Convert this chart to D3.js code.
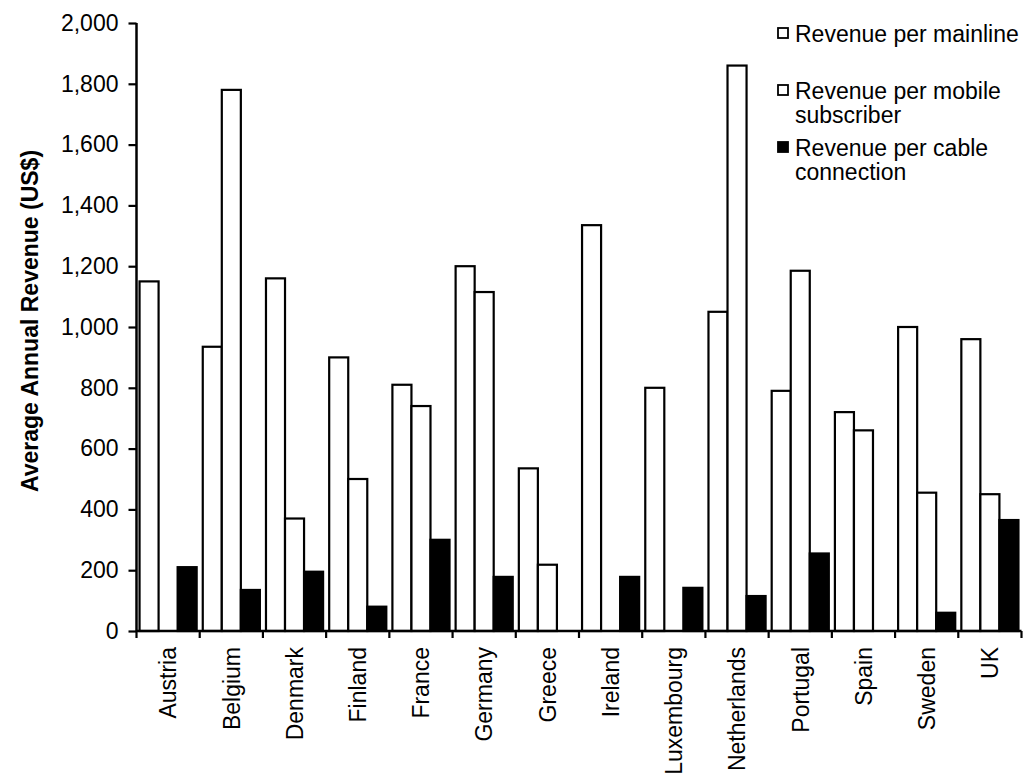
<!DOCTYPE html>
<html>
<head>
<meta charset="utf-8">
<script src="https://cdn.jsdelivr.net/npm/d3@7"></script>
<style>
  html, body { margin: 0; padding: 0; background: #fff; }
  svg { display: block; font-family: "Liberation Sans", Arial, Helvetica, sans-serif; }
</style>
</head>
<body>
<svg id="chart" width="1026" height="776"></svg>
<script>
// Average annual revenue per connection type, by country (US$)
const countries = ["Austria", "Belgium", "Denmark", "Finland", "France", "Germany", "Greece",
  "Ireland", "Luxembourg", "Netherlands", "Portugal", "Spain", "Sweden", "UK"];
const mainline = [1150, 935, 1160, 900, 810, 1200, 535, 1335, 800, 1050, 790, 720, 1000, 960];
const mobile   = [0, 1780, 370, 500, 740, 1115, 218, 0, 0, 1860, 1185, 660, 455, 450];
const cable    = [210, 135, 195, 80, 300, 178, 0, 178, 142, 115, 255, 0, 60, 365];
const seriesNames = ["Revenue per mainline", "Revenue per mobile subscriber", "Revenue per cable connection"];
const legendLines = [["Revenue per mainline"], ["Revenue per mobile", "subscriber"], ["Revenue per cable", "connection"]];
const yTicks = [0, 200, 400, 600, 800, 1000, 1200, 1400, 1600, 1800, 2000];

const seriesValues = [mainline, mobile, cable];
const fills = ["#fff", "#fff", "#000"];
const FONT = 23;

const svg = d3.select("#chart");
const plot = { left: 136.5, right: 1021.5, top: 23, bottom: 631 };

const x = d3.scaleBand().domain(countries).range([plot.left, plot.right]).padding(0);
const x1 = d3.scaleBand().domain(d3.range(3)).range([0, x.bandwidth()])
  .paddingInner(0).paddingOuter(0.16);
const y = d3.scaleLinear().domain([0, 2000]).range([plot.bottom, plot.top]);

// bars
const rows = countries.map((c, i) => ({ c, vals: seriesValues.map(s => s[i]) }));
const groups = svg.append("g").selectAll("g").data(rows).join("g")
  .attr("transform", d => `translate(${x(d.c)},0)`);
groups.selectAll("rect").data(d => d.vals.map((v, k) => ({ v, k })))
  .join("rect")
  .attr("x", d => x1(d.k))
  .attr("width", x1.bandwidth())
  .attr("y", d => y(d.v))
  .attr("height", d => y(0) - y(d.v))
  .attr("fill", d => fills[d.k])
  .attr("stroke", "#000")
  .attr("stroke-width", 2.2);

// y axis
const yAxis = svg.append("g")
  .attr("transform", `translate(${plot.left},0)`)
  .call(d3.axisLeft(y).tickValues(yTicks).tickFormat(d3.format(",")).tickSize(8).tickPadding(10));
yAxis.select(".domain").attr("stroke-width", 2.5).attr("d", `M0,${plot.top}V${plot.bottom + 1}`);
yAxis.selectAll(".tick line").attr("stroke-width", 2.2);
yAxis.selectAll(".tick text").attr("font-size", FONT).attr("fill", "#000")
  .attr("font-family", "'Liberation Sans', Arial, sans-serif");

// x axis: ticks at category boundaries
const xAxis = svg.append("g").attr("transform", `translate(0,${plot.bottom})`);
xAxis.append("line").attr("x1", plot.left).attr("x2", plot.right)
  .attr("stroke", "#000").attr("stroke-width", 2.5);
const boundaries = countries.map(c => x(c)).concat([x(countries[countries.length - 1]) + x.bandwidth()]);
xAxis.selectAll("line.tk").data(boundaries).join("line").attr("class", "tk")
  .attr("x1", d => d).attr("x2", d => d).attr("y1", 0).attr("y2", 7)
  .attr("stroke", "#000").attr("stroke-width", 2.2);
xAxis.selectAll("text").data(countries).join("text")
  .attr("transform", d => `translate(${x(d) + x.bandwidth() / 2},16) rotate(-90)`)
  .attr("text-anchor", "end")
  .attr("dy", "0.36em")
  .attr("font-size", FONT)
  .text(d => d);

// y axis title
svg.append("text")
  .attr("transform", `translate(30,321) rotate(-90)`)
  .attr("text-anchor", "middle")
  .attr("dy", "0.36em")
  .attr("font-size", FONT)
  .attr("font-weight", "bold")
  .text("Average Annual Revenue (US$)");

// legend
const legendTops = [42, 99, 156];
const legend = svg.append("g");
legendLines.forEach((lines, k) => {
  const g = legend.append("g").attr("aria-label", seriesNames[k]);
  g.append("rect")
    .attr("x", 778).attr("y", legendTops[k] - 14)
    .attr("width", 10).attr("height", 10)
    .attr("fill", fills[k]).attr("stroke", "#000").attr("stroke-width", 1.8);
  lines.forEach((t, j) => {
    g.append("text")
      .attr("x", 795).attr("y", legendTops[k] + j * 24)
      .attr("font-size", FONT)
      .text(t);
  });
});
</script>
</body>
</html>
